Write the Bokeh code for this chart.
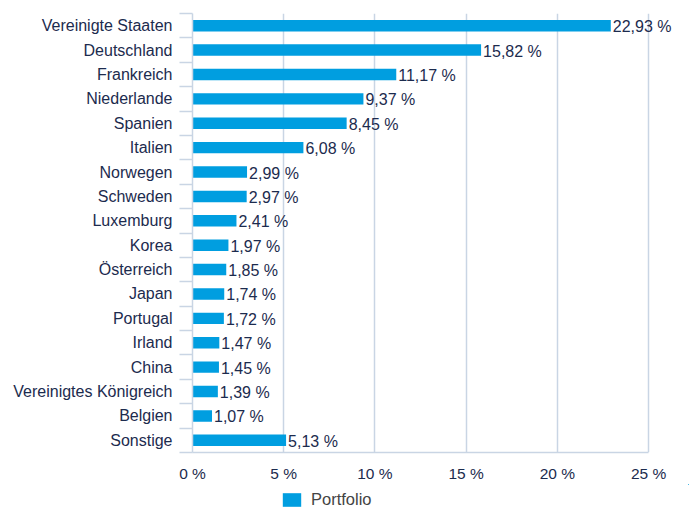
from bokeh.plotting import figure
from bokeh.layouts import column
from bokeh.models import (Range1d, FixedTicker, LinearAxis, Legend, LegendItem,
                          ColumnDataSource, Grid)
from bokeh.core.properties import value
from bokeh.embed import file_html
from bokeh.resources import INLINE

countries = ["Vereinigte Staaten", "Deutschland", "Frankreich", "Niederlande",
             "Spanien", "Italien", "Norwegen", "Schweden", "Luxemburg", "Korea",
             "Österreich", "Japan", "Portugal", "Irland", "China",
             "Vereinigtes Königreich", "Belgien", "Sonstige"]
weights = [22.93, 15.82, 11.17, 9.37, 8.45, 6.08, 2.99, 2.97, 2.41, 1.97,
           1.85, 1.74, 1.72, 1.47, 1.45, 1.39, 1.07, 5.13]
x_ticks = [0, 5, 10, 15, 20, 25]
x_tick_labels = ["0 %", "5 %", "10 %", "15 %", "20 %", "25 %"]
series_name = "Portfolio"

FONT = "Liberation Sans"
NAVY = "#1c2b4e"
BLUE = "#009ee0"
GRIDC = "#c9d5e4"

n = len(countries)
pos = [n - 1 - i for i in range(n)]
labels = [f"{v:.2f}".replace(".", ",") + " %" for v in weights]
src = ColumnDataSource(dict(y=pos, w=weights, lab=labels))

p = figure(width=690, height=484, output_backend="svg", toolbar_location=None,
           x_range=Range1d(0, 27.19), y_range=Range1d(-0.5, n - 0.5),
           x_axis_location=None, y_axis_location=None,
           min_border_left=192, min_border_right=2, min_border_top=13,
           min_border_bottom=30)
p.outline_line_color = None
p.background_fill_color = "white"
p.border_fill_color = "white"

r = p.hbar(y="y", right="w", left=0, height=0.47, source=src,
           fill_color=BLUE, line_color=None)
p.text(x="w", y="y", text="lab", source=src, x_offset=2, y_offset=1,
       text_baseline="middle", text_align="left", text_color=NAVY,
       text_font=value(FONT), text_font_size="16px")

# y axis
yax = LinearAxis(ticker=FixedTicker(ticks=pos,
                                    minor_ticks=[i - 0.5 for i in range(n + 1)]))
yax.major_label_overrides = {pp: c for pp, c in zip(pos, countries)}
yax.major_tick_out = 0
yax.major_tick_in = 0
yax.minor_tick_out = 13
yax.minor_tick_in = 0
yax.minor_tick_line_color = GRIDC
yax.minor_tick_line_width = 1.5
yax.axis_line_color = GRIDC
yax.axis_line_width = 1.5
yax.major_label_standoff = 7
yax.major_label_text_font = FONT
yax.major_label_text_font_size = "16px"
yax.major_label_text_color = NAVY
p.add_layout(yax, "left")

# x axis
xax = LinearAxis(ticker=FixedTicker(ticks=x_ticks), bounds=(0, 25))
xax.major_label_overrides = {t: l for t, l in zip(x_ticks, x_tick_labels)}
xax.major_tick_out = 0
xax.major_tick_in = 0
xax.minor_tick_line_color = None
xax.axis_line_color = GRIDC
xax.axis_line_width = 1.5
xax.major_label_standoff = 12
xax.major_label_text_font = FONT
xax.major_label_text_font_size = "15.5px"
xax.major_label_text_color = NAVY
p.add_layout(xax, "below")

p.xgrid.visible = False
p.ygrid.visible = False
g = Grid(dimension=0, ticker=FixedTicker(ticks=x_ticks[1:]),
         grid_line_color=GRIDC, grid_line_width=1.5)
p.add_layout(g)

# legend strip below the chart (its frame is aligned with the chart's frame)
p2 = figure(width=690, height=25, output_backend="svg", toolbar_location=None,
            x_range=Range1d(-1000, -999), y_range=Range1d(-1000, -999),
            x_axis_location=None, y_axis_location=None, min_border=0)
p2.outline_line_color = None
p2.xgrid.visible = False
p2.ygrid.visible = False
r2 = p2.hbar(y="y", right="w", left=0, height=0.47, source=src,
             fill_color=BLUE, line_color=None)
leg = Legend(items=[LegendItem(label=series_name, renderers=[r2])],
             location=(88, 0), orientation="horizontal",
             glyph_width=23, glyph_height=17, label_standoff=8,
             padding=0, margin=0, border_line_color=None,
             background_fill_alpha=0,
             label_text_font=FONT, label_text_font_size="16.5px",
             label_text_color="#444444")
p2.add_layout(leg, "center")

open("out.html", "w").write(file_html(column(p, p2, spacing=0), INLINE))
